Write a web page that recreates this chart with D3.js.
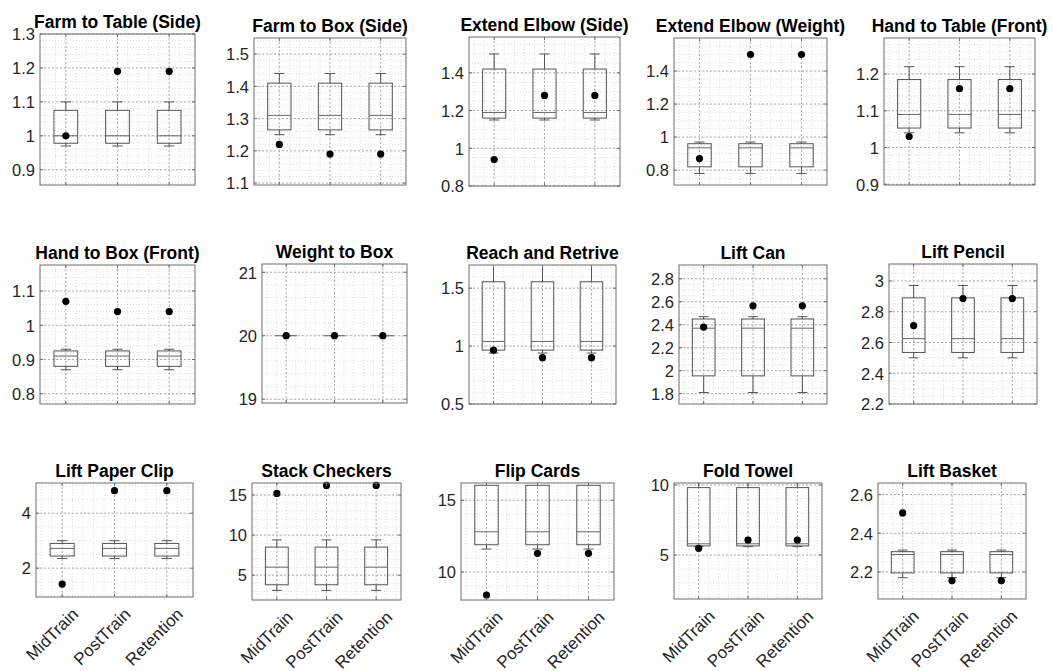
<!DOCTYPE html>
<html>
<head>
<meta charset="utf-8">
<script src="https://cdn.jsdelivr.net/npm/d3@7"></script>
<style>
  body { margin: 0; background: #fff; }
  svg { display: block; font-family: "Liberation Sans", Arial, sans-serif; }
</style>
</head>
<body>
<svg id="chart" width="1053" height="671"></svg>
<script>
const sessions = ["MidTrain", "PostTrain", "Retention"];

const titles = [
  "Farm to Table (Side)", "Farm to Box (Side)", "Extend Elbow (Side)", "Extend Elbow (Weight)", "Hand to Table (Front)",
  "Hand to Box (Front)", "Weight to Box", "Reach and Retrive", "Lift Can", "Lift Pencil",
  "Lift Paper Clip", "Stack Checkers", "Flip Cards", "Fold Towel", "Lift Basket"
];

// box statistics (same box for all three sessions in every task)
const whiskerHigh = [1.10, 1.44, 1.50, 0.97, 1.22, 0.93, 20, 1.80, 2.47, 2.97, 3.0, 9.4, 16.3, 10.3, 2.313];
const upperQuartile = [1.075, 1.41, 1.42, 0.96, 1.185, 0.925, 20, 1.555, 2.45, 2.89, 2.9, 8.5, 16.04, 9.81, 2.305];
const medians = [1.0, 1.31, 1.19, 0.935, 1.09, 0.91, 20, 1.04, 2.37, 2.625, 2.72, 6.0, 12.8, 5.8, 2.29];
const lowerQuartile = [0.978, 1.265, 1.16, 0.82, 1.053, 0.88, 20, 0.965, 1.955, 2.535, 2.44, 3.8, 11.9, 5.65, 2.195];
const whiskerLow = [0.97, 1.25, 1.15, 0.78, 1.04, 0.87, 20, 0.94, 1.81, 2.5, 2.35, 3.1, 11.6, 5.6, 2.17];

// black dots: MidTrain, PostTrain, Retention
const subjectValues = [
  [1.0, 1.19, 1.19], [1.22, 1.19, 1.19], [0.94, 1.28, 1.28], [0.87, 1.5, 1.5], [1.03, 1.16, 1.16],
  [1.07, 1.04, 1.04], [20, 20, 20], [0.965, 0.9, 0.9], [2.38, 2.565, 2.565], [2.71, 2.885, 2.885],
  [1.42, 4.82, 4.82], [15.2, 16.2, 16.2], [8.4, 11.3, 11.3], [5.48, 6.07, 6.07], [2.505, 2.155, 2.155]
];

const yLimits = [
  [0.855, 1.3], [1.094, 1.55], [0.8, 1.59], [0.71, 1.6], [0.898, 1.298],
  [0.77, 1.176], [18.94, 21.13], [0.5, 1.7], [1.71, 2.92], [2.2, 3.11],
  [0.95, 5.1], [1.9, 16.5], [8.05, 16.2], [1.86, 10.14], [2.06, 2.66]
];

const yTicks = [
  [0.9, 1, 1.1, 1.2, 1.3], [1.1, 1.2, 1.3, 1.4, 1.5], [0.8, 1, 1.2, 1.4], [0.8, 1, 1.2, 1.4], [0.9, 1, 1.1, 1.2],
  [0.8, 0.9, 1, 1.1], [19, 20, 21], [0.5, 1, 1.5], [1.8, 2, 2.2, 2.4, 2.6, 2.8], [2.2, 2.4, 2.6, 2.8, 3],
  [2, 4], [5, 10, 15], [10, 15], [5, 10], [2.2, 2.4, 2.6]
];

// layout: plot area [left, top, right, bottom] and minor grid step
const frames = [
  [40, 34, 195, 185], [254, 38, 406, 185], [469, 37, 620, 186], [674, 38, 827, 185], [884, 38, 1035, 185],
  [40, 265, 195, 404], [262, 264, 407, 403], [469, 265, 616, 404], [679, 265, 827, 404], [889, 264, 1037, 404],
  [36, 483, 193, 597], [252, 483, 401, 600], [461, 483, 614, 600], [674, 483, 822, 599], [878, 483, 1026, 599]
];
const minorSteps = [0.02, 0.02, 0.05, 0.05, 0.02, 0.02, 0.2, 0.1, 0.05, 0.05, 0.5, 1, 1, 1, 0.05];

const svg = d3.select("#chart");

const drawPanel = (i) => {
  const [x0, y0, x1, y1] = frames[i];
  const x = d3.scaleLinear().domain([0.5, 3.5]).range([x0, x1]);
  const y = d3.scaleLinear().domain(yLimits[i]).range([y1, y0]);
  const g = svg.append("g");

  g.append("clipPath").attr("id", "clip" + i)
    .append("rect").attr("x", x0).attr("y", y0).attr("width", x1 - x0).attr("height", y1 - y0);

  g.append("rect")
    .attr("x", x0).attr("y", y0).attr("width", x1 - x0).attr("height", y1 - y0)
    .attr("fill", "#fff");

  // minor grid
  const ms = minorSteps[i];
  const [ya, yb] = yLimits[i];
  const minorY = d3.range(Math.ceil(ya / ms) * ms, yb, ms);
  const minorX = d3.range(0.6, 3.45, 0.2);
  g.selectAll(".minY").data(minorY).join("line")
    .attr("x1", x0).attr("x2", x1)
    .attr("y1", d => y(d)).attr("y2", d => y(d))
    .attr("stroke", "#d4d4d4").attr("stroke-width", 0.8).attr("stroke-dasharray", "1,2");
  g.selectAll(".minX").data(minorX).join("line")
    .attr("x1", d => x(d)).attr("x2", d => x(d))
    .attr("y1", y0).attr("y2", y1)
    .attr("stroke", "#d4d4d4").attr("stroke-width", 0.8).attr("stroke-dasharray", "1,2");

  // major grid
  g.selectAll(".majY").data(yTicks[i]).join("line")
    .attr("x1", x0).attr("x2", x1)
    .attr("y1", d => y(d)).attr("y2", d => y(d))
    .attr("stroke", "#b0b0b0").attr("stroke-dasharray", "2,2");
  g.selectAll(".majX").data([1, 2, 3]).join("line")
    .attr("x1", d => x(d)).attr("x2", d => x(d))
    .attr("y1", y0).attr("y2", y1)
    .attr("stroke", "#b0b0b0").attr("stroke-dasharray", "2,2");

  // boxes
  const boxes = g.append("g").attr("clip-path", `url(#clip${i})`)
    .selectAll("g").data([1, 2, 3]).join("g");
  const bw = 0.23, cw = 0.1;
  boxes.append("line")
    .attr("x1", d => x(d)).attr("x2", d => x(d))
    .attr("y1", y(whiskerHigh[i])).attr("y2", y(upperQuartile[i]))
    .attr("stroke", "#555");
  boxes.append("line")
    .attr("x1", d => x(d)).attr("x2", d => x(d))
    .attr("y1", y(lowerQuartile[i])).attr("y2", y(whiskerLow[i]))
    .attr("stroke", "#555");
  boxes.append("line")
    .attr("x1", d => x(d - cw)).attr("x2", d => x(d + cw))
    .attr("y1", y(whiskerHigh[i])).attr("y2", y(whiskerHigh[i]))
    .attr("stroke", "#555");
  boxes.append("line")
    .attr("x1", d => x(d - cw)).attr("x2", d => x(d + cw))
    .attr("y1", y(whiskerLow[i])).attr("y2", y(whiskerLow[i]))
    .attr("stroke", "#555");
  boxes.append("rect")
    .attr("x", d => x(d - bw)).attr("width", x(1 + bw) - x(1 - bw))
    .attr("y", y(upperQuartile[i]))
    .attr("height", y(lowerQuartile[i]) - y(upperQuartile[i]))
    .attr("fill", "none").attr("stroke", "#555");
  boxes.append("line")
    .attr("x1", d => x(d - bw)).attr("x2", d => x(d + bw))
    .attr("y1", y(medians[i])).attr("y2", y(medians[i]))
    .attr("stroke", "#666");

  // subject dots
  g.selectAll("circle").data(subjectValues[i]).join("circle")
    .attr("cx", (d, k) => x(k + 1))
    .attr("cy", d => y(d))
    .attr("r", 3.6)
    .attr("fill", "#000");

  // frame and ticks
  g.append("rect")
    .attr("x", x0).attr("y", y0).attr("width", x1 - x0).attr("height", y1 - y0)
    .attr("fill", "none").attr("stroke", "#6e6e6e");
  const tl = 3;
  g.selectAll(".tkY").data(yTicks[i]).join("path")
    .attr("d", d => `M${x0},${y(d)}h${tl}M${x1},${y(d)}h${-tl}`)
    .attr("stroke", "#6e6e6e");
  g.selectAll(".tkX").data([1, 2, 3]).join("path")
    .attr("d", d => `M${x(d)},${y1}v${-tl}M${x(d)},${y0}v${tl}`)
    .attr("stroke", "#6e6e6e");

  g.selectAll(".yl").data(yTicks[i]).join("text")
    .attr("x", x0 - 5)
    .attr("y", d => y(d))
    .attr("dy", "0.38em")
    .attr("text-anchor", "end")
    .attr("font-size", 16.5)
    .attr("fill", "#262626")
    .text(d => d3.format("~g")(d));

  g.append("text")
    .attr("x", (x0 + x1) / 2)
    .attr("y", y0 - 6)
    .attr("text-anchor", "middle")
    .attr("font-size", 17.5)
    .attr("font-weight", "bold")
    .attr("fill", "#000")
    .text(titles[i]);

  // session labels only on the bottom row
  if (i >= 10) {
    g.selectAll(".xl").data(sessions).join("text")
      .attr("transform", (d, k) => `translate(${x(k + 1) + 13},${y1 + 14}) rotate(-45)`)
      .attr("text-anchor", "end")
      .attr("dy", "0.35em")
      .attr("font-size", 17)
      .attr("fill", "#262626")
      .text(d => d);
  }
};

titles.forEach((t, i) => drawPanel(i));
</script>
</body>
</html>
